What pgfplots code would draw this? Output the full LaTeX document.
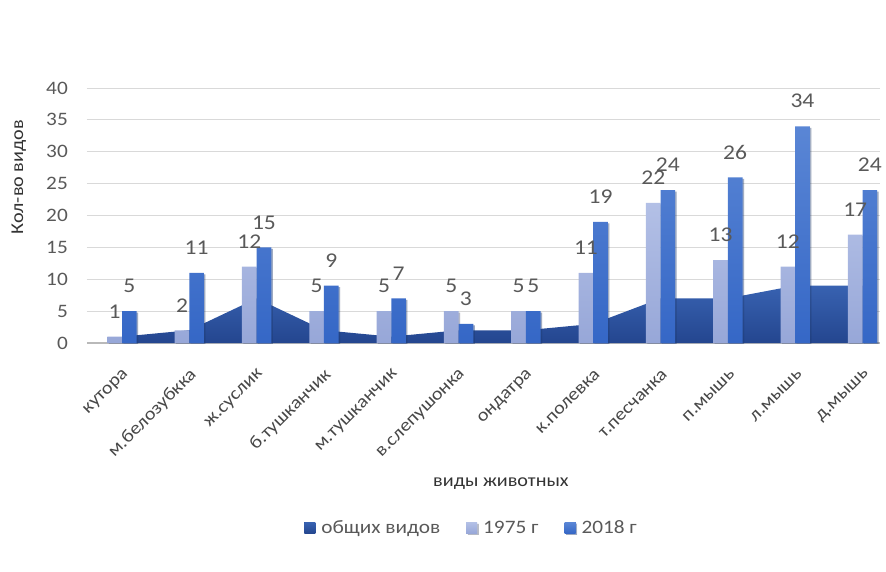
\documentclass[border=0pt]{standalone}
\usepackage{fontspec}
\setmainfont{Carlito}[FakeStretch=1.12]
\usepackage{pgfplots}
\pgfplotsset{compat=1.18}
\usetikzlibrary{shadows}

\definecolor{areaTop}{HTML}{3862B1}
\definecolor{areaBot}{HTML}{24468F}
\definecolor{oldTop}{HTML}{B3C0E6}
\definecolor{oldBot}{HTML}{97A7D8}
\definecolor{newTop}{HTML}{5A86D5}
\definecolor{newBot}{HTML}{3567C6}
\definecolor{txt}{HTML}{595959}
\definecolor{gridc}{HTML}{D9D9D9}

\begin{document}
\begin{tikzpicture}
% page = 886 x 571 px, plot origin at px (87,343)
\path[use as bounding box] (-87pt,-228pt) rectangle (799pt,343pt);
\begin{axis}[
  at={(0,0)}, anchor=south west,
  scale only axis, width=793pt, height=255pt,
  xmin=-0.52, xmax=11.26, ymin=0, ymax=40,
  ytick={0,5,...,40},
  xtick={0,...,11},
  xticklabels={кутора, м.белозубкка, ж.суслик, б.тушканчик, м.тушканчик,
    в.слепушонка, ондатра, к.полевка, т.песчанка, п.мышь, л.мышь, д.мышь},
  axis x line*=bottom, axis y line*=left,
  y axis line style={draw=none},
  x axis line style={draw=gray!55, line width=1.5pt, -},
  major tick length=0pt,
  ymajorgrids, grid style={gridc, line width=0.9pt},
  /pgf/number format/assume math mode=true,
  yticklabel style={font=\fontsize{19}{19}\selectfont, text=txt,
    anchor=east, inner sep=0pt, xshift=-19pt},
  xticklabel style={yshift=-29pt, xshift=4.5pt, rotate=45, anchor=east,
    inner sep=0pt, font=\fontsize{18}{18}\selectfont, text=black!72},
  ylabel={Кол-во видов},
  ylabel style={at={(axis description cs:-0.086,0.65)}, anchor=center,
    font=\fontsize{18}{18}\selectfont, text=black!80},
  xlabel={виды животных},
  xlabel style={at={(axis description cs:0.522,-0.55)}, anchor=center,
    font=\fontsize{18}{18}\selectfont, text=black!80},
  legend columns=3,
  legend style={at={(axis description cs:0.485,-0.725)}, anchor=center,
    draw=none, fill=none, font=\fontsize{19}{19}\selectfont, text=txt,
    /tikz/every even column/.append style={column sep=24pt}},
  every node near coord/.append style={font=\fontsize{21}{21}\selectfont,
    text=txt, anchor=center, yshift=25pt},
]
% общих видов (area behind the columns)
\addplot[draw=none, top color=areaTop, bottom color=areaBot,
  legend image code/.code={\fill[areaBot!85!areaTop] (0pt,-5.5pt) rectangle (11pt,5.5pt);
    \path (15pt,0pt);}]
  coordinates {(0,1) (1,2) (2,7) (3,2) (4,1) (5,2) (6,2) (7,3) (8,7) (9,7) (10,9) (11,9)}
  \closedcycle;
\addlegendentry{общих видов}

% 1975 г
\addplot[ybar, bar width=0.218, bar shift=-0.109, draw=none,
  top color=oldTop, bottom color=oldBot,
  drop shadow={shadow xshift=1.5pt, shadow yshift=-1.5pt, opacity=0.25, fill=black},
  nodes near coords, nodes near coords style={xshift=-7.3pt},
  legend image code/.code={\fill[oldTop!60!oldBot] (0pt,-5.5pt) rectangle (11pt,5.5pt);
    \path (15pt,0pt);}]
  coordinates {(0,1) (1,2) (2,12) (3,5) (4,5) (5,5) (6,5) (7,11) (8,22) (9,13) (10,12) (11,17)};
\addlegendentry{1975 г}

% 2018 г
\addplot[ybar, bar width=0.218, bar shift=0.109, draw=none,
  top color=newTop, bottom color=newBot,
  drop shadow={shadow xshift=1.5pt, shadow yshift=-1.5pt, opacity=0.25, fill=black},
  nodes near coords, nodes near coords style={xshift=7.3pt},
  legend image code/.code={\fill[newTop!50!newBot] (0pt,-5.5pt) rectangle (11pt,5.5pt);
    \path (15pt,0pt);}]
  coordinates {(0,5) (1,11) (2,15) (3,9) (4,7) (5,3) (6,5) (7,19) (8,24) (9,26) (10,34) (11,24)};
\addlegendentry{2018 г}
\end{axis}
\end{tikzpicture}
\end{document}
